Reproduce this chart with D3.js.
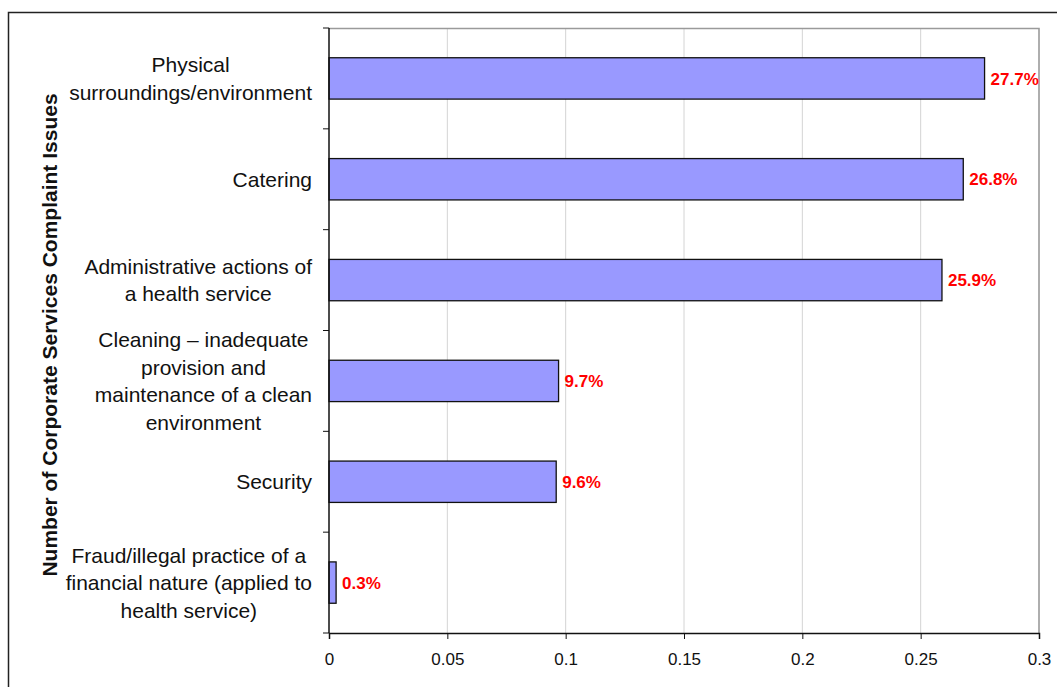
<!DOCTYPE html>
<html>
<head>
<meta charset="utf-8">
<script src="https://cdn.jsdelivr.net/npm/d3@7"></script>
<style>
  body { margin: 0; background: #fff; }
  text { font-family: "Liberation Sans", Arial, sans-serif; }
</style>
</head>
<body>
<div id="wrapper"></div>
<script>
// Complaint categories, top to bottom, each split into its printed lines
const categories = [
  ["Physical", "surroundings/environment"],
  ["Catering"],
  ["Administrative actions of", "a health service"],
  ["Cleaning \u2013 inadequate", "provision and", "maintenance of a clean", "environment"],
  ["Security"],
  ["Fraud/illegal practice of a", "financial nature (applied to", "health service)"]
]
const shares = [0.277, 0.268, 0.259, 0.097, 0.096, 0.003]
const valueLabels = ["27.7%", "26.8%", "25.9%", "9.7%", "9.6%", "0.3%"]
const xTicks = [0, 0.05, 0.1, 0.15, 0.2, 0.25, 0.3]
const yTitle = "Number of Corporate Services Complaint Issues"

let dimensions = {
  width: 1057,
  height: 687,
  margin: { top: 28, right: 18, bottom: 54, left: 329 }
}
dimensions.boundedWidth = dimensions.width - dimensions.margin.left - dimensions.margin.right
dimensions.boundedHeight = dimensions.height - dimensions.margin.top - dimensions.margin.bottom

const wrapper = d3.select('#wrapper').append('svg')
  .attr('width', dimensions.width)
  .attr('height', dimensions.height)

// outer chart frame (runs off the right and bottom edges like the original)
wrapper.append('rect')
  .attr('x', 8.5).attr('y', 12.5)
  .attr('width', 1100).attr('height', 700)
  .attr('fill', 'none').attr('stroke', '#222').attr('stroke-width', 1.5)

const bounds = wrapper.append('g')
  .attr('transform', `translate(${dimensions.margin.left},${dimensions.margin.top})`)

const xScale = d3.scaleLinear().domain([0, 0.3]).range([0, dimensions.boundedWidth])
const yScale = d3.scaleBand()
  .domain(d3.range(categories.length))
  .range([0, dimensions.boundedHeight])
  .paddingInner(0.59).paddingOuter(0.295)
const bandStep = dimensions.boundedHeight / categories.length

// gridlines
bounds.append('g').selectAll('line')
  .data(xTicks.slice(1))
  .enter().append('line')
  .attr('x1', d => xScale(d)).attr('x2', d => xScale(d))
  .attr('y1', 0).attr('y2', dimensions.boundedHeight)
  .attr('stroke', '#d4d4d4').attr('stroke-width', 1)

// plot area border (top and right)
bounds.append('path')
  .attr('d', `M0,0.5H${dimensions.boundedWidth}V${dimensions.boundedHeight}`)
  .attr('fill', 'none').attr('stroke', '#9a9a9a').attr('stroke-width', 1.5)

// bars
bounds.append('g').selectAll('rect')
  .data(shares)
  .enter().append('rect')
  .attr('x', 0)
  .attr('y', (d, i) => yScale(i))
  .attr('width', d => xScale(d))
  .attr('height', yScale.bandwidth())
  .attr('fill', '#9999ff')
  .attr('stroke', '#111').attr('stroke-width', 1.3)

// value labels
bounds.append('g').selectAll('text')
  .data(shares)
  .enter().append('text')
  .attr('x', d => xScale(d) + 6)
  .attr('y', (d, i) => yScale(i) + yScale.bandwidth() / 2)
  .attr('dy', '0.36em')
  .attr('fill', '#ff0000')
  .style('font-weight', 'bold')
  .style('font-size', '17px')
  .text((d, i) => valueLabels[i])

// x axis
const xAxis = bounds.append('g')
  .attr('transform', `translate(0,${dimensions.boundedHeight})`)
  .call(d3.axisBottom(xScale).tickValues(xTicks).tickFormat(d => String(d)).tickSize(6).tickPadding(14))
xAxis.select('.domain').attr('stroke', '#111').attr('stroke-width', 1.5)
xAxis.selectAll('.tick line').attr('stroke', '#111')
xAxis.selectAll('.tick text')
  .attr('fill', '#111')
  .style('font-size', '17px')
  .style('font-family', '"Liberation Sans", Arial, sans-serif')

// y axis line and ticks at band boundaries
bounds.append('line')
  .attr('x1', 0).attr('x2', 0).attr('y1', 0).attr('y2', dimensions.boundedHeight)
  .attr('stroke', '#111').attr('stroke-width', 1.5)
bounds.append('g').selectAll('line')
  .data(d3.range(categories.length + 1))
  .enter().append('line')
  .attr('x1', -6).attr('x2', 0)
  .attr('y1', d => d * bandStep).attr('y2', d => d * bandStep)
  .attr('stroke', '#111')

// category labels: lines centered together, block right-aligned to the axis
const lineHeight = 27.5
const labelRight = -17
const labelGroups = bounds.append('g').selectAll('g')
  .data(categories)
  .enter().append('g')
labelGroups.each(function (lines, i) {
  const g = d3.select(this)
  const texts = g.selectAll('text')
    .data(lines)
    .enter().append('text')
    .attr('y', (d, j) => yScale(i) + yScale.bandwidth() / 2 + (j - (lines.length - 1) / 2) * lineHeight)
    .attr('dy', '0.36em')
    .attr('text-anchor', 'middle')
    .attr('fill', '#111')
    .style('font-size', '21px')
    .text(d => d)
  let maxW = 0
  texts.each(function () { maxW = Math.max(maxW, this.getComputedTextLength()) })
  texts.attr('x', labelRight - maxW / 2)
})

// y axis title
wrapper.append('text')
  .attr('transform', `translate(57,335) rotate(-90)`)
  .attr('text-anchor', 'middle')
  .attr('fill', '#111')
  .style('font-weight', 'bold')
  .style('font-size', '21px')
  .text(yTitle)
</script>
</body>
</html>
